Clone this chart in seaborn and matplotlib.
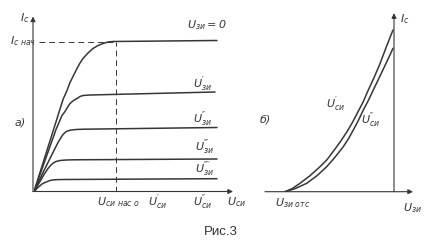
import numpy as np
import pandas as pd
import matplotlib
matplotlib.use("Agg")
import matplotlib.pyplot as plt
import seaborn as sns

# ---------------- data ----------------
# Panel a): output characteristics Ic(Uси) for several Uзи (arbitrary units, px offsets)
usi_0 = [0, 12, 24, 29, 33, 36, 40, 43, 46, 49, 54, 59, 64, 69, 74, 79, 183]
ic_0 = [0, 38, 76, 92, 101, 109, 117, 123, 128.5, 133, 138.5, 143, 146, 148, 149.5, 150, 151]
usi_1 = [0, 11, 22, 28, 31, 34, 36, 39.5, 43, 46, 49, 56, 181]
ic_1 = [0, 31, 62, 76, 80, 85, 88, 91, 93, 95, 96, 96.5, 99.5]
usi_2 = [0, 10, 18, 24, 27, 29, 32, 36, 42, 50, 183]
ic_2 = [0, 21, 37, 49, 54, 57, 59.8, 61.3, 62, 62.3, 64]
usi_3 = [0, 6, 10, 14, 17, 19, 22, 26, 32, 40, 183]
ic_3 = [0, 10, 17, 23, 26.5, 28.3, 30, 31, 31.5, 31.7, 32.5]
usi_4 = [0, 4, 8, 11, 13, 16, 19, 24, 30, 183]
ic_4 = [0, 4, 7.5, 9, 9.8, 11, 11.6, 11.9, 12, 12.8]
curve_labels_a = ["$U_{зи}=0$", "$U_{зи}^{′}$", "$U_{зи}^{″}$",
                  "$U_{зи}^{‴}$", "$U_{зи}^{‴′}$"]
ic_sat = 150          # Ic нач level
usi_sat = 82          # Uси нас 0

# Panel б): transfer characteristics Ic(Uзи) for two Uси
uzi_1 = [0, 7, 15, 25, 35, 42, 48, 55, 62, 67, 72, 78, 83, 89, 95, 101, 108]
icb_1 = [0, 3, 8.4, 16, 25, 32, 40, 49.5, 60, 68.5, 78, 89.5, 101, 114, 128, 144, 161.7]
uzi_2 = [0, 10, 21.7, 32, 41.7, 50, 58.3, 63.5, 68.3, 73.5, 78.3, 83.5, 88.3, 93, 98, 103, 108]
icb_2 = [0, 3, 8.4, 16, 25, 34.5, 45, 53, 61.7, 71.5, 81.7, 91.5, 101.7, 111.5, 122, 132.5, 143.4]
curve_labels_b = ["$U_{си}^{′}$", "$U_{си}^{″}$"]

xtick_labels_a = ["$U_{си\\ нас\\ о}$", "$U_{си}^{′}$", "$U_{си}^{″}$", "$U_{си}$"]

# ---------------- styling ----------------
sns.set_theme(style="white")
plt.rcParams["font.family"] = ["DejaVu Sans"]
plt.rcParams["mathtext.fontset"] = "custom"
plt.rcParams["mathtext.it"] = "DejaVu Sans:italic"
plt.rcParams["mathtext.rm"] = "DejaVu Sans:italic"
plt.rcParams["mathtext.default"] = "it"

INK = "#363636"
W, H = 429, 247
fig = plt.figure(figsize=(W / 100, H / 100), dpi=100)
fig.patch.set_facecolor("white")


def px_axes(x0, x1, y_top, y_bot):
    return fig.add_axes([x0 / W, (H - y_bot) / H, (x1 - x0) / W, (y_bot - y_top) / H])


def arrow(ax, start, end):
    ax.annotate("", xy=end, xytext=start,
                arrowprops=dict(arrowstyle="-|>", lw=0.8, color=INK,
                                shrinkA=0, shrinkB=0, mutation_scale=7),
                annotation_clip=False)


def clean(ax):
    ax.set_axis_off()
    ax.set_facecolor("none")


# ---------- panel a ----------
oxa, oya = 34, 191.5
axa = px_axes(oxa, 245, 8, oya)
axa.set_xlim(0, 245 - oxa)
axa.set_ylim(0, oya - 8)
clean(axa)

frames = []
for i, (x, y) in enumerate([(usi_0, ic_0), (usi_1, ic_1), (usi_2, ic_2), (usi_3, ic_3), (usi_4, ic_4)]):
    frames.append(pd.DataFrame({"U": x, "I": y, "curve": i}))
dfa = pd.concat(frames)
sns.lineplot(data=dfa, x="U", y="I", units="curve", estimator=None, sort=False,
             color=INK, lw=1.1, ax=axa, legend=False)

axa.plot([5, usi_sat], [ic_sat, ic_sat], color=INK, lw=0.7, dashes=(6, 4))
axa.plot([usi_sat, usi_sat], [0, ic_sat], color=INK, lw=0.7, dashes=(6, 4))

arrow(axa, (-1, 0), (199, 0))
arrow(axa, (-1, 0), (-1, 175))

fs = 8
label_pos_a = [(153, 166.5), (159, 107.5), (159, 72.5), (161, 44), (161, 22.5)]
for lab, (x, y) in zip(curve_labels_a, label_pos_a):
    axa.text(x, y, lab, fontsize=fs, color=INK, ha="left", va="center")

xl_pos = [63, 114, 159, 193]
for lab, x in zip(xtick_labels_a, xl_pos):
    axa.text(x, -11, lab, fontsize=fs, color=INK, ha="left", va="center")

axa.text(-9, 173, "$I_{с}$", fontsize=fs, color=INK, ha="center", va="center")
axa.text(2, ic_sat, "$I_{с\\ нач}$", fontsize=fs, color=INK, ha="right", va="center")
axa.text(-14, 69.5, "а)", fontsize=fs, color=INK, ha="center", va="center", style="italic")

# ---------- panel б ----------
oxb, oyb = 285, 191.7
axb = px_axes(258, 425, 8, oyb)
axb.set_xlim(258 - oxb, 425 - oxb)
axb.set_ylim(0, oyb - 8)
clean(axb)

dfb = pd.concat([pd.DataFrame({"U": uzi_1, "I": icb_1, "curve": 0}),
                 pd.DataFrame({"U": uzi_2, "I": icb_2, "curve": 1})])
sns.lineplot(data=dfb, x="U", y="I", units="curve", estimator=None, sort=False,
             color=INK, lw=1.1, ax=axb, legend=False)

arrow(axb, (-20, 0), (128, 0))
arrow(axb, (109, 0), (109, 178.5))

axb.text(51, 87.7, curve_labels_b[0], fontsize=fs, color=INK, ha="center", va="center")
axb.text(86, 71.7, curve_labels_b[1], fontsize=fs, color=INK, ha="center", va="center")
axb.text(-10, -11.5, "$U_{зи\\ отс}$", fontsize=fs, color=INK, ha="left", va="center")
axb.text(118, -16, "$U_{зи}$", fontsize=fs, color=INK, ha="left", va="center")
axb.text(120, 173, "$I_{с}$", fontsize=fs, color=INK, ha="center", va="center")
axb.text(-20, 72.7, "б)", fontsize=fs, color=INK, ha="center", va="center", style="italic")

fig.text(221 / W, 1 - 232 / H, "Рис.3", fontsize=9.5, color="#333333",
         family="Liberation Sans", ha="center", va="center")

fig.savefig("out.png", dpi=100, facecolor="white")
